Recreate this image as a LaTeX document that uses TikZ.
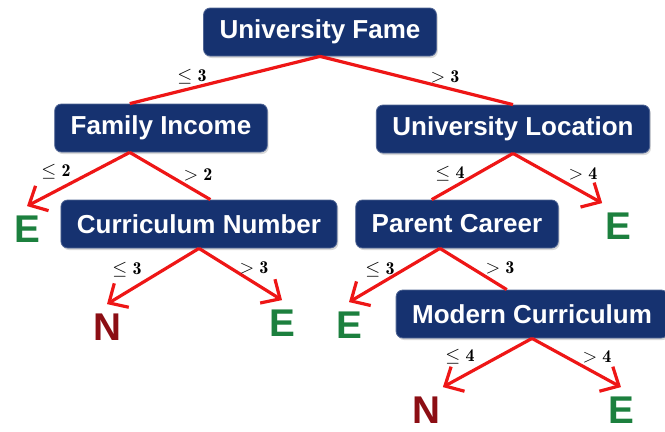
\documentclass[tikz,border=0pt]{standalone}
\usepackage{fontspec}
\newfontfamily\boxfont{Liberation Sans}
\usetikzlibrary{arrows.meta,shadows}

\definecolor{boxblue}{RGB}{22,50,112}
\definecolor{edgered}{RGB}{238,22,22}
\definecolor{leafgreen}{RGB}{28,128,62}
\definecolor{leafred}{RGB}{140,14,20}

\begin{document}
\begin{tikzpicture}[x=0.75pt,y=0.75pt,yscale=-1,xscale=1,
  attr/.style={draw=boxblue!75!white, line width=0.6pt, fill=boxblue, rounded corners=5pt,
    text=white, font=\boxfont\bfseries\fontsize{19.5}{22}\selectfont,
    minimum height=36pt, inner xsep=12pt,
    drop shadow={opacity=0.3,shadow xshift=1pt,shadow yshift=-1.5pt}},
  leafE/.style={text=leafgreen, font=\boxfont\bfseries\fontsize{29}{30}\selectfont, inner xsep=2pt, inner ysep=7pt},
  leafN/.style={leafE, text=leafred},
  branch/.style={draw=edgered, line width=2.4pt},
  split/.style={branch, -{Straight Barb[length=11pt,width=21pt]}},
  cond/.style={inner sep=0.75pt, font=\fontsize{13.5}{15}\selectfont}]
\useasboundingbox (0,0) rectangle (665,432);

% Attribute boxes
\node[attr] (fame) at (320,32) {University Fame};
\node[attr] (income) at (161,128) {Family Income};
\node[attr] (location) at (513,129) {University Location};
\node[attr] (currnum) at (199,224) {Curriculum Number};
\node[attr] (career) at (457,224) {Parent Career};
\node[attr] (modern) at (532,314) {Modern Curriculum};

% Leaves
\node[leafE] (e1) at (27,229) {E};
\node[leafE] (e2) at (618,226) {E};
\node[leafN] (n1) at (107,327) {N};
\node[leafE] (e3) at (282,323) {E};
\node[leafE] (e4) at (349,325) {E};
\node[leafN] (n2) at (426,410) {N};
\node[leafE] (e5) at (621,410) {E};

% Branches
\draw[branch] (fame.south) -- (income.142);
\draw[branch] (fame.south) -- (location.north);
\draw[split] (income.218) -- (e1.north);
\draw[branch] (income.218) -- (currnum.65);
\draw[branch] (location.south) -- (career.136);
\draw[split] (location.south) -- (e2.north west);
\draw[split] (currnum.south) -- (n1.north);
\draw[split] (currnum.south) -- (e3.north);
\draw[split] (career.235) -- (e4.north);
\draw[branch] (career.235) -- (modern.136);
\draw[split] (modern.south) -- (n2.north east);
\draw[split] (modern.south) -- (e5.north);

% Conditions
\node[cond] (c1) at (192,77) {$\le\mathbf{3}$};
\node[cond] (c2) at (445,77) {$>\mathbf{3}$};
\node[cond] (c3) at (56,172) {$\le\mathbf{2}$};
\node[cond] (c4) at (198,175) {$>\mathbf{2}$};
\node[cond] (c5) at (450,174) {$\le\mathbf{4}$};
\node[cond] (c6) at (583,174) {$>\mathbf{4}$};
\node[cond] (c7) at (127,270) {$\le\mathbf{3}$};
\node[cond] (c8) at (254,268) {$>\mathbf{3}$};
\node[cond] (c9) at (380,270) {$\le\mathbf{3}$};
\node[cond] (c10) at (500,268) {$>\mathbf{3}$};
\node[cond] (c11) at (460,357) {$\le\mathbf{4}$};
\node[cond] (c12) at (597,357) {$>\mathbf{4}$};

\end{tikzpicture}
\end{document}
